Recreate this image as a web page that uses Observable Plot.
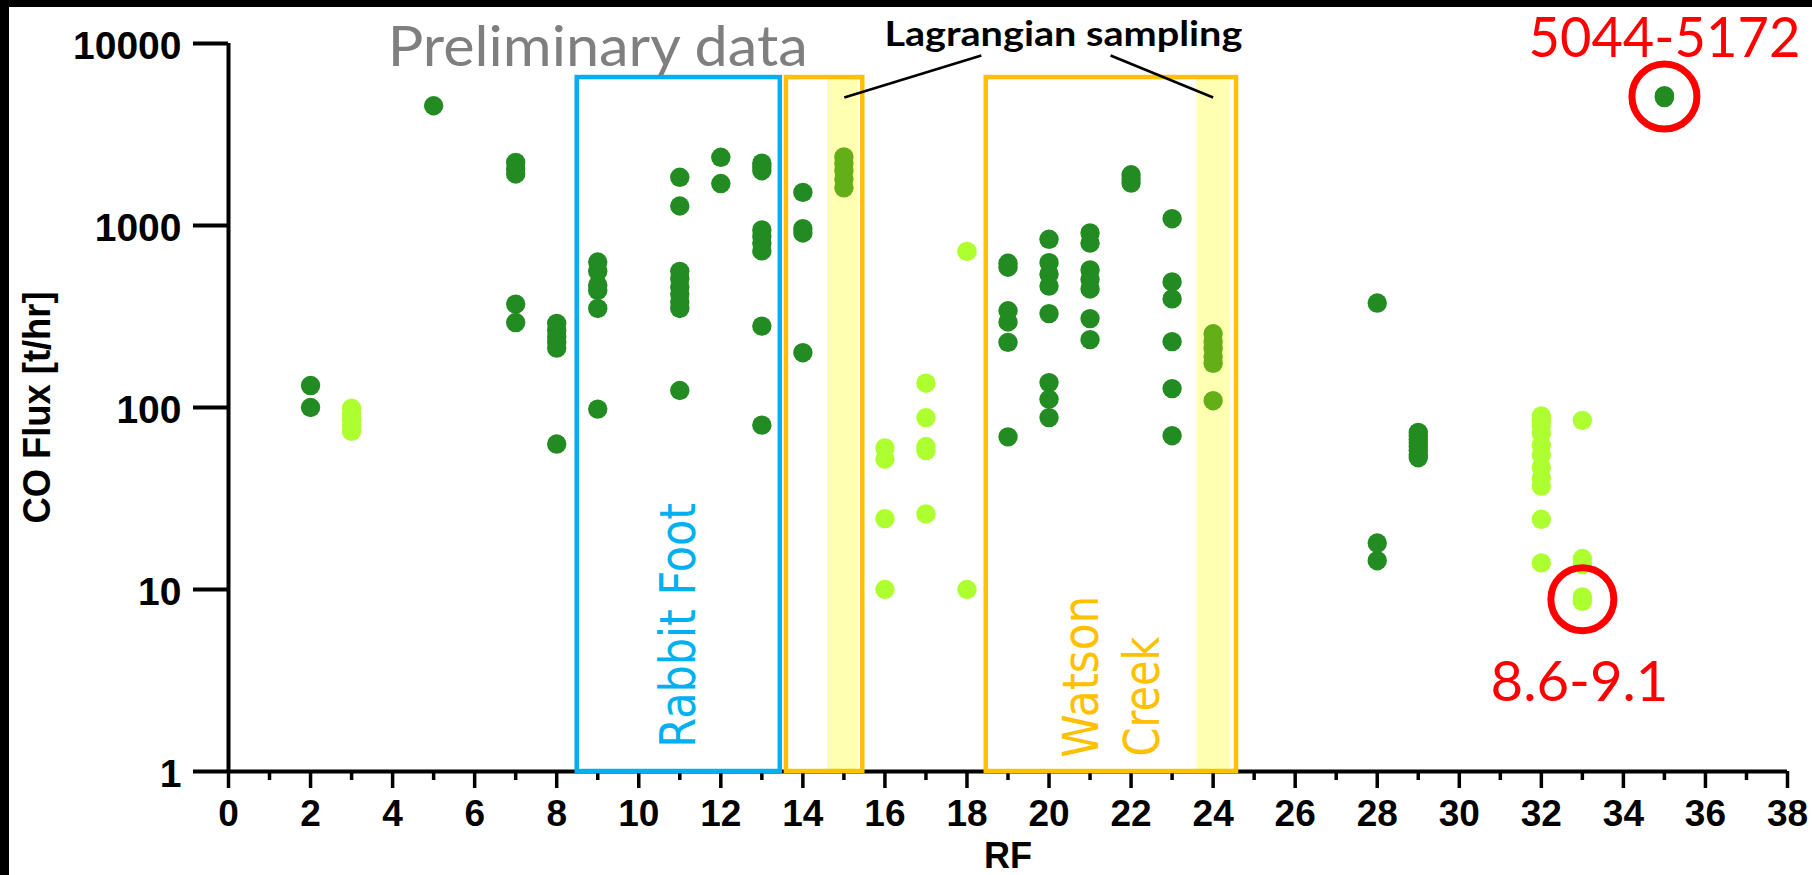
<!DOCTYPE html>
<html>
<head>
<meta charset="utf-8">
<script src="https://cdn.jsdelivr.net/npm/d3@7"></script>
<script src="https://cdn.jsdelivr.net/npm/@observablehq/plot@0.6"></script>
<style>
  html, body { margin: 0; padding: 0; background: #fff; overflow: hidden; }
  #wrap { position: relative; width: 1812px; height: 875px; overflow: hidden; background: #fff; }
  #wrap svg { position: absolute; left: 0; top: 0; }
  .bar { position: absolute; background: #000; }
</style>
</head>
<body>
<div id="wrap">
  <div class="bar" style="left:0;top:0;width:1812px;height:7px"></div>
  <div class="bar" style="left:0;top:0;width:9px;height:875px"></div>
</div>
<script>
// Research flights (RF) and the CO flux estimates for each one [t/hr]
const rfNumbers = [2, 3, 5, 7, 8, 9, 11, 12, 13, 14, 15, 16, 17, 18, 19, 20, 21, 22, 23, 24, 28, 29, 32, 33, 35];

// "dark" = primary estimates, "light" = secondary estimates
const rfGroup = ["dark", "light", "dark", "dark", "dark", "dark", "dark", "dark", "dark", "dark",
                 "dark", "light", "light", "light", "dark", "dark", "dark", "dark", "dark", "dark",
                 "dark", "dark", "light", "light", "dark"];

const coFlux = [
  [132, 100],                                        // RF 2
  [99, 92, 86, 80, 74],                              // RF 3
  [4550],                                            // RF 5
  [2220, 2050, 1920, 370, 293],                      // RF 7
  [290, 265, 245, 228, 212, 63],                     // RF 8
  [630, 560, 470, 440, 350, 98],                     // RF 9
  [1840, 1280, 560, 510, 460, 420, 380, 350, 124],   // RF 11
  [2370, 1700],                                      // RF 12
  [2200, 2100, 2000, 945, 870, 800, 725, 280, 80],   // RF 13
  [1520, 960, 910, 200],                             // RF 14
  [2380, 2200, 2000, 1800, 1610],                    // RF 15
  [60, 52, 24.5, 10],                                // RF 16
  [136, 88, 61, 58, 26],                             // RF 17
  [720, 10],                                         // RF 18
  [620, 590, 340, 295, 228, 69],                     // RF 19
  [840, 625, 540, 465, 328, 137, 111, 88],           // RF 20
  [910, 800, 570, 505, 448, 308, 236],               // RF 21
  [1900, 1800, 1710],                                // RF 22
  [1090, 490, 395, 230, 127, 70],                    // RF 23
  [254, 230, 211, 190, 175, 109],                    // RF 24
  [375, 18, 14.4],                                   // RF 28
  [73, 70, 67, 64, 61, 58, 55, 53],                  // RF 29
  [90, 85, 80, 72, 62, 55, 47, 41, 37, 24.3, 14],    // RF 32
  [85, 14.8, 13.7, 9.1, 8.6],                        // RF 33
  [5172, 5108, 5044]                                 // RF 35
];

// Axis ticks
const yTicks = [1, 10, 100, 1000, 10000];
const xMajorTicks = [0, 2, 4, 6, 8, 10, 12, 14, 16, 18, 20, 22, 24, 26, 28, 30, 32, 34, 36, 38];
const xMinorTicks = [1, 3, 5, 7, 9, 11, 13, 15, 17, 19, 21, 23, 25, 27, 29, 31, 33, 35, 37];

// Annotation texts
const titleNote = "Preliminary data";
const lagrangianNote = "Lagrangian sampling";
const highRangeNote = "5044-5172";
const lowRangeNote = "8.6-9.1";

const colors = { dark: "#228B22", light: "#ADFF2F" };

const points = rfNumbers.flatMap((rf, i) =>
  coFlux[i].map(flux => ({ rf, flux, group: rfGroup[i] }))
);

// Text lengths used to fit the annotation glyphs
const textLengths = new Map([
  [titleNote, 420], [lagrangianNote, 358], [highRangeNote, 272], [lowRangeNote, 178],
  ["Rabbit Foot", 245], ["Watson", 162], ["Creek", 120], ["CO Flux [t/hr]", 232]
]);

const ink = "#000";
const chart = Plot.plot({
  width: 1812,
  height: 875,
  marginLeft: 228,
  marginRight: 25,
  marginTop: 43,
  marginBottom: 104,
  x: { domain: [0, 38] },
  y: { type: "log", domain: [1, 10000] },
  style: { background: "transparent", color: ink, fontFamily: "'Liberation Sans', Arial, sans-serif", overflow: "visible" },
  marks: [
    // axis lines
    Plot.ruleY([1], { stroke: ink, strokeWidth: 4 }),
    Plot.ruleX([0], { stroke: ink, strokeWidth: 4 }),
    // y axis ticks and labels
    Plot.axisY({ ticks: yTicks, tickSize: 35, tickFormat: () => "", strokeWidth: 4, label: null }),
    Plot.axisY({ ticks: yTicks, tickSize: 0, tickPadding: 47, tickFormat: d => String(d),
                 fontSize: 39, fontWeight: "bold", dy: 3, label: null }),
    // x axis ticks and labels
    Plot.axisX({ ticks: xMajorTicks, tickSize: 17, tickPadding: 11, tickFormat: d => String(d),
                 strokeWidth: 3.5, fontSize: 37, fontWeight: "bold", label: null }),
    Plot.axisX({ ticks: xMinorTicks, tickSize: 9, tickFormat: () => "", strokeWidth: 3.5, label: null }),
    // axis titles
    Plot.text(["CO Flux [t/hr]"], { text: d => d, frameAnchor: "left", dx: -191, rotate: -90,
      textAnchor: "middle", lineAnchor: "middle", fontSize: 38, fontWeight: "bold", fill: ink }),
    Plot.text(["RF"], { text: d => d, frameAnchor: "bottom", dy: 96, textAnchor: "middle",
      lineAnchor: "bottom", fontSize: 36, fontWeight: "bold", fill: ink }),

    // flux estimates
    Plot.dot(points.filter(d => d.group === "dark"), { x: "rf", y: "flux", r: 9.7, fill: colors.dark }),
    Plot.dot(points.filter(d => d.group === "light"), { x: "rf", y: "flux", r: 9.7, fill: colors.light }),

    // Lagrangian sampling windows (translucent yellow over the dots)
    Plot.rect([{ a: 14.6, b: 15.36 }, { a: 23.6, b: 24.42 }], {
      x1: "a", x2: "b", y1: 1, y2: 6400, fill: "rgb(255,255,0)", fillOpacity: 0.3 }),

    // fire boxes
    Plot.rect([{ a: 8.5, b: 13.45 }], { x1: "a", x2: "b", y1: 1, y2: 6500,
      fill: "none", stroke: "#00B0F0", strokeWidth: 4.5 }),
    Plot.rect([{ a: 13.6, b: 15.46 }, { a: 18.47, b: 24.57 }], { x1: "a", x2: "b", y1: 1, y2: 6500,
      fill: "none", stroke: "#FFC000", strokeWidth: 4.5 }),

    // fire names
    Plot.text(["Rabbit Foot"], { text: d => d, x: 10.99, y: 1.35, rotate: -90, textAnchor: "start",
      lineAnchor: "middle", fontFamily: "'DejaVu Sans', sans-serif", fontSize: 50, fill: "#00B0F0" }),
    Plot.text(["Watson"], { text: d => d, x: 20.81, y: 1.19, rotate: -90, textAnchor: "start",
      lineAnchor: "middle", fontFamily: "'DejaVu Sans', sans-serif", fontSize: 50, fill: "#FFC000" }),
    Plot.text(["Creek"], { text: d => d, x: 22.3, y: 1.21, rotate: -90, textAnchor: "start",
      lineAnchor: "middle", fontFamily: "'DejaVu Sans', sans-serif", fontSize: 50, fill: "#FFC000" }),

    // notes
    Plot.text([titleNote], { text: d => d, x: 9.0, y: 7570, textAnchor: "middle", lineAnchor: "bottom",
      fontFamily: "Lato, sans-serif", fontSize: 56, fill: "#7F7F7F" }),
    Plot.text([lagrangianNote], { text: d => d, x: 20.35, y: 9750, textAnchor: "middle", lineAnchor: "bottom",
      fontFamily: "Lato, sans-serif", fontWeight: "bold", fontSize: 35, fill: ink }),
    Plot.link([{ x1: 18.35, y1: 8590, x2: 15.01, y2: 5050 }, { x1: 21.5, y1: 8590, x2: 24.0, y2: 5050 }], {
      x1: "x1", y1: "y1", x2: "x2", y2: "y2", stroke: ink, strokeWidth: 2.6 }),

    // highlighted extremes
    Plot.text([highRangeNote], { text: d => d, x: 35.0, y: 8400, textAnchor: "middle", lineAnchor: "bottom",
      fontFamily: "Lato, sans-serif", fontSize: 56, fill: "#FF0000" }),
    Plot.dot([{ rf: 35, flux: 5108 }], { x: "rf", y: "flux", r: 32.5, fill: "none", stroke: "#FF0000", strokeWidth: 7 }),
    Plot.text([lowRangeNote], { text: d => d, x: 32.93, y: 2.455, textAnchor: "middle", lineAnchor: "bottom",
      fontFamily: "Lato, sans-serif", fontSize: 56, fill: "#FF0000" }),
    Plot.dot([{ rf: 33, flux: 8.85 }], { x: "rf", y: "flux", r: 31.5, fill: "none", stroke: "#FF0000", strokeWidth: 7 })
  ]
});

d3.select(chart).selectAll("text").each(function () {
  const len = textLengths.get(this.textContent);
  if (len) {
    this.setAttribute("textLength", len);
    this.setAttribute("lengthAdjust", "spacingAndGlyphs");
  }
});

document.getElementById("wrap").prepend(chart);
</script>
</body>
</html>
